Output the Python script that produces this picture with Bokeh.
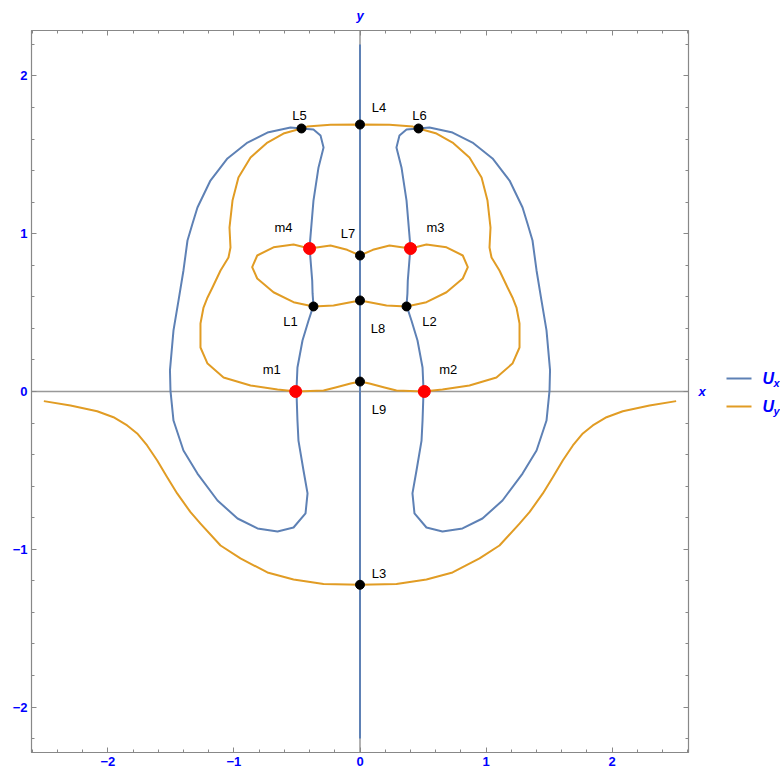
from bokeh.plotting import figure
from bokeh.layouts import row
from bokeh.models import (Range1d, FixedTicker, LinearAxis, Span, CustomJSTickFormatter,
                          ColumnDataSource)
from bokeh.core.properties import value
from bokeh.embed import file_html
from bokeh.resources import INLINE

# ---------------- data ----------------
x_ticks = [-2, -1, 0, 1, 2]
x_tick_labels = ["\u22122", "\u22121", "0", "1", "2"]
y_ticks = [-2, -1, 0, 1, 2]
y_tick_labels = ["\u22122", "\u22121", "0", "1", "2"]

# Ux = 0 : vertical line x = 0
ux_axis_x = [0.0, 0.0]
ux_axis_y = [-2.2, 2.2]

# Ux = 0 : left closed loop
ux_left_x = [-0.464, -0.551, -0.734, -0.892, -1.051, -1.186, -1.289, -1.328, -1.368, -1.400, -1.439,
             -1.479, -1.507, -1.503, -1.479, -1.400, -1.289, -1.130, -0.971, -0.813, -0.654,
             -0.527, -0.432, -0.416, -0.448, -0.488, -0.496, -0.504, -0.496, -0.456, -0.408,
             -0.369, -0.376, -0.379, -0.400, -0.369, -0.329, -0.289, -0.313, -0.369, -0.464]
ux_left_y = [1.667, 1.673, 1.641, 1.578, 1.477, 1.337, 1.166, 1.065, 0.957, 0.767, 0.577,
             0.387, 0.135, 0.006, -0.184, -0.374, -0.520, -0.691, -0.805, -0.868, -0.887,
             -0.862, -0.773, -0.646, -0.501, -0.311, -0.184, 0.006, 0.152, 0.323, 0.450,
             0.545, 0.620, 0.703, 0.913, 1.210, 1.420, 1.546, 1.622, 1.660, 1.667]

# Ux = 0 : right closed loop
ux_right_x = [0.464, 0.551, 0.734, 0.892, 1.051, 1.186, 1.289, 1.328, 1.368, 1.400, 1.439,
              1.479, 1.507, 1.503, 1.479, 1.400, 1.289, 1.130, 0.971, 0.813, 0.654,
              0.527, 0.432, 0.416, 0.448, 0.488, 0.496, 0.504, 0.496, 0.456, 0.408,
              0.369, 0.376, 0.379, 0.400, 0.369, 0.329, 0.289, 0.313, 0.369, 0.464]
ux_right_y = ux_left_y

# Uy = 0 : lower open curve
uy_low_x = [-2.507, -2.296, -2.084, -1.955, -1.846, -1.767, -1.688, -1.608, -1.529, -1.450,
            -1.344, -1.265, -1.106, -0.948, -0.734, -0.527, -0.289, 0.0,
            0.289, 0.527, 0.734, 0.948, 1.106, 1.265, 1.344, 1.450, 1.529, 1.608,
            1.688, 1.767, 1.846, 1.955, 2.084, 2.296, 2.507]
uy_low_y = [-0.061, -0.089, -0.125, -0.163, -0.215, -0.266, -0.342, -0.437, -0.543, -0.646,
            -0.765, -0.837, -0.976, -1.058, -1.147, -1.191, -1.220, -1.225,
            -1.220, -1.191, -1.147, -1.058, -0.976, -0.837, -0.765, -0.646, -0.543, -0.437,
            -0.342, -0.266, -0.215, -0.163, -0.125, -0.089, -0.061]

# Uy = 0 : large closed loop
uy_big_x = [0.0, -0.234, -0.419, -0.464, -0.607, -0.734, -0.868, -0.964, -1.011, -1.035,
            -1.027, -1.043, -1.106, -1.170, -1.209, -1.241, -1.265, -1.265, -1.209, -1.082,
            -0.868, -0.654, -0.504, -0.289, -0.194, -0.075, 0.0,
            0.075, 0.194, 0.289, 0.504, 0.654, 0.868, 1.082, 1.209, 1.265, 1.265,
            1.241, 1.209, 1.170, 1.106, 1.043, 1.027, 1.035, 1.011, 0.964, 0.868,
            0.734, 0.607, 0.464, 0.419, 0.234, 0.0]
uy_big_y = [1.692, 1.690, 1.679, 1.667, 1.635, 1.578, 1.483, 1.356, 1.210, 1.039,
            0.913, 0.849, 0.767, 0.659, 0.596, 0.532, 0.431, 0.279, 0.177, 0.089,
            0.038, 0.013, 0.000, 0.006, 0.025, 0.051, 0.063,
            0.051, 0.025, 0.006, 0.000, 0.013, 0.038, 0.089, 0.177, 0.279, 0.431,
            0.532, 0.596, 0.659, 0.767, 0.849, 0.913, 1.039, 1.210, 1.356, 1.483,
            1.578, 1.635, 1.667, 1.679, 1.690, 1.692]

# Uy = 0 : inner lobes
uy_lobe_left_x = [0.0, -0.102, -0.234, -0.400, -0.527, -0.686, -0.815, -0.855, -0.815, -0.686,
                  -0.527, -0.369, -0.210, -0.075, 0.0]
uy_lobe_left_y = [0.862, 0.898, 0.925, 0.906, 0.932, 0.914, 0.862, 0.788, 0.716, 0.629,
                  0.566, 0.539, 0.545, 0.566, 0.577]
uy_lobe_right_x = [0.0, 0.102, 0.234, 0.400, 0.527, 0.686, 0.815, 0.855, 0.815, 0.686,
                   0.527, 0.369, 0.210, 0.075, 0.0]
uy_lobe_right_y = uy_lobe_left_y

# equilibrium points
L_names = ["L1", "L2", "L3", "L4", "L5", "L6", "L7", "L8", "L9"]
L_x = [-0.369, 0.369, 0.0, 0.0, -0.464, 0.464, 0.0, 0.0, 0.0]
L_y = [0.539, 0.539, -1.225, 1.692, 1.667, 1.667, 0.862, 0.577, 0.063]
m_names = ["m1", "m2", "m3", "m4"]
m_x = [-0.51, 0.51, 0.40, -0.40]
m_y = [0.0, 0.0, 0.906, 0.906]

legend_labels = ["U", "U"]
legend_subs = ["x", "y"]

# ---------------- layout / style ----------------
BLUE = "#5E81B5"
ORANGE = "#E19C24"
TXT_BLUE = "#0000FF"
FRAME = "#888888"
FONT = "Liberation Sans"
H = 772

# label offsets in screen px (dx, dy; dy positive = down)
L_off = {"L1": (-23, 15), "L2": (23, 15), "L3": (19, -11), "L4": (19, -17), "L5": (-2, -13),
         "L6": (1, -13), "L7": (-12, -22), "L8": (18, 28), "L9": (19, 28)}
m_off = {"m1": (-24, -22), "m2": (24, -22), "m3": (25, -21), "m4": (-26, -21)}

p = figure(width=712, height=H, output_backend="svg", toolbar_location=None,
           x_range=Range1d(-2.605, 2.605), y_range=Range1d(-2.288, 2.288),
           min_border_left=31, min_border_right=24, min_border_top=30, min_border_bottom=20,
           background_fill_color="white", border_fill_color="white")
p.xgrid.visible = False
p.ygrid.visible = False
p.outline_line_color = FRAME

minor = [round(-2.6 + 0.2 * i, 1) for i in range(27)]
minor = [t for t in minor if abs(t - round(t)) > 1e-6]


def style_axis(ax, ticks, labels, show):
    ax.ticker = FixedTicker(ticks=ticks, minor_ticks=minor)
    ax.axis_line_color = FRAME
    ax.axis_line_width = 1.2
    ax.major_tick_line_color = FRAME
    ax.minor_tick_line_color = FRAME
    ax.major_tick_in = 5
    ax.major_tick_out = 0
    ax.minor_tick_in = 3
    ax.minor_tick_out = 0
    if show:
        ax.major_label_overrides = {t: l for t, l in zip(ticks, labels)}
        ax.major_label_text_font = FONT
        ax.major_label_text_font_style = "bold"
        ax.major_label_text_font_size = "13px"
        ax.major_label_text_color = TXT_BLUE
        ax.major_label_standoff = 4
    else:
        ax.formatter = CustomJSTickFormatter(code="return ''")
        ax.major_label_standoff = 0
        ax.major_label_text_font_size = "1px"
    ax.axis_label_text_font = FONT
    ax.axis_label_text_font_style = "bold italic"
    ax.axis_label_text_font_size = "13px"
    ax.axis_label_text_color = TXT_BLUE


style_axis(p.xaxis[0], x_ticks, x_tick_labels, True)
style_axis(p.yaxis[0], y_ticks, y_tick_labels, True)
ax_top = LinearAxis(axis_label="y", axis_label_standoff=8)
style_axis(ax_top, x_ticks, x_tick_labels, False)
p.add_layout(ax_top, "above")
ax_right = LinearAxis(axis_label="x", axis_label_standoff=10,
                      axis_label_orientation="horizontal")
style_axis(ax_right, y_ticks, y_tick_labels, False)
p.add_layout(ax_right, "right")

# axes through origin (drawn beneath the curves and points)
p.add_layout(Span(location=0, dimension="width", line_color="#999999", line_width=1.5,
                  level="underlay"))
p.add_layout(Span(location=0, dimension="height", line_color="#999999", line_width=1.5,
                  level="underlay"))

lw = 2
p.line(ux_axis_x, ux_axis_y, line_color=BLUE, line_width=lw)
p.line(ux_left_x, ux_left_y, line_color=BLUE, line_width=lw, line_join="round")
p.line(ux_right_x, ux_right_y, line_color=BLUE, line_width=lw, line_join="round")
p.line(uy_low_x, uy_low_y, line_color=ORANGE, line_width=lw, line_join="round")
p.line(uy_big_x, uy_big_y, line_color=ORANGE, line_width=lw, line_join="round")
p.line(uy_lobe_left_x, uy_lobe_left_y, line_color=ORANGE, line_width=lw, line_join="round")
p.line(uy_lobe_right_x, uy_lobe_right_y, line_color=ORANGE, line_width=lw, line_join="round")

p.scatter(L_x, L_y, size=9, color="black")
p.scatter(m_x, m_y, size=12, color="red")

src_L = ColumnDataSource(dict(x=L_x, y=L_y, t=L_names,
                              dx=[L_off[n][0] for n in L_names], dy=[L_off[n][1] for n in L_names]))
src_m = ColumnDataSource(dict(x=m_x, y=m_y, t=m_names,
                              dx=[m_off[n][0] for n in m_names], dy=[m_off[n][1] for n in m_names]))
for src in (src_L, src_m):
    p.text(x="x", y="y", text="t", x_offset="dx", y_offset="dy", source=src,
           text_font=value(FONT), text_font_size="13px", text_color="black",
           text_align="center", text_baseline="middle")

# ---------------- legend panel (separate figure, pixel coordinates) ----------------
lg = figure(width=68, height=H, output_backend="svg", toolbar_location=None,
            x_range=Range1d(0, 68), y_range=Range1d(H, 0),
            x_axis_location=None, y_axis_location=None,
            min_border=0, min_border_left=0, min_border_right=0,
            min_border_top=0, min_border_bottom=0,
            background_fill_color="white", border_fill_color="white")
lg.xgrid.visible = False
lg.ygrid.visible = False
lg.outline_line_color = None

legend_rows = [372, 402]
legend_cols = [BLUE, ORANGE]
for yy, col in zip(legend_rows, legend_cols):
    lg.line([14, 39], [yy, yy], line_color=col, line_width=2)
lg.text(x=[50, 50], y=legend_rows, text=legend_labels, text_font=value(FONT),
        text_font_style="bold italic", text_font_size="16px", text_color=TXT_BLUE,
        text_align="left", text_baseline="middle")
lg.text(x=[61, 61], y=[r + 5 for r in legend_rows], text=legend_subs, text_font=value(FONT),
        text_font_style="bold italic", text_font_size="11px", text_color=TXT_BLUE,
        text_align="left", text_baseline="middle")

layout = row(p, lg, spacing=0)
open("out.html", "w").write(file_html(layout, INLINE))
